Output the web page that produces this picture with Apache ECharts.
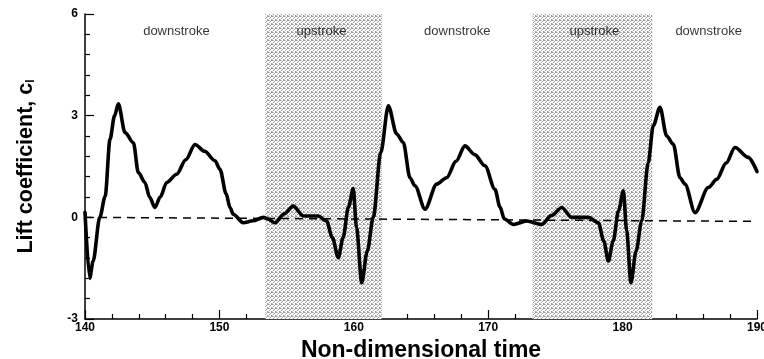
<!DOCTYPE html>
<html>
<head>
<meta charset="utf-8">
<script src="https://cdn.jsdelivr.net/npm/echarts@6/dist/echarts.min.js"></script>
<style>html,body{margin:0;padding:0;background:#fff}#c{width:764px;height:359px}</style>
</head>
<body>
<div id="c"></div>
<script>
// Non-dimensional time (x) and lift coefficient (y)
const timeValues = [140.0,140.35,140.6,141.1,141.5,141.86,142.2,142.48,142.98,143.6,143.97,144.46,144.8,145.2,145.6,146.08,146.82,147.5,148.18,148.9,149.67,150.04,150.5,150.79,151.03,151.78,152.5,153.27,153.6,154.14,154.8,155.5,156.24,157.36,157.98,158.4,158.85,159.2,159.6,159.96,160.2,160.59,161.0,161.45,162.0,162.57,163.19,163.68,164.18,164.55,165.3,166.17,166.91,167.6,168.27,169.0,169.76,170.5,170.88,171.2,171.87,172.86,173.98,174.7,175.47,176.21,177.45,178.2,178.6,178.94,179.3,179.7,180.06,180.3,180.62,181.0,181.42,181.9,182.28,182.78,183.28,183.77,184.27,184.64,185.39,186.38,187.0,187.7,188.36,189.35,190.0];
const liftValues = [0.15,-1.8,-1.3,0.0,0.62,2.3,3.0,3.35,2.5,2.2,1.32,1.03,0.6,0.29,0.6,1.03,1.27,1.7,2.15,1.95,1.67,1.42,0.7,0.29,0.09,-0.16,-0.1,0.0,-0.05,-0.16,0.1,0.33,0.04,0.04,-0.11,-0.6,-1.19,-0.6,0.3,0.85,-0.3,-1.93,-1.0,0.0,1.9,3.29,2.46,2.21,1.17,0.93,0.24,0.98,1.17,1.65,2.11,1.85,1.52,0.83,0.3,-0.05,-0.21,-0.11,-0.21,0.05,0.29,0.0,0.0,-0.16,-0.7,-1.29,-0.7,0.2,0.78,-0.4,-1.93,-1.0,-0.11,1.6,2.7,3.25,2.4,2.16,1.17,0.98,0.14,0.88,1.12,1.6,2.06,1.77,1.35];
// Zero reference line (dashed)
const zeroLineX = [140, 190];
const zeroLineY = [0, -0.12];
// Shaded upstroke intervals
const upstrokeStart = [153.4, 173.3];
const upstrokeEnd = [162.1, 182.2];
// Phase labels
const phaseNames = ['downstroke','upstroke','downstroke','upstroke','downstroke'];
const phaseX = [146.8, 157.6, 167.7, 177.9, 186.4];
const phaseY = [5.5, 5.5, 5.5, 5.5, 5.5];
// Axis ranges and ticks
const xMin = 140, xMax = 190, xStep = 10;
const yMin = -3, yMax = 6, yStep = 3;

// stipple pattern for the shaded intervals
const pat = document.createElement('canvas');
pat.width = 4; pat.height = 4;
const pc = pat.getContext('2d');
pc.fillStyle = '#ffffff'; pc.fillRect(0, 0, 4, 4);
pc.fillStyle = '#9a9a9a';
[[0,0],[2,1],[1,2],[3,3],[3,0]].forEach(([a,b]) => pc.fillRect(a, b, 1, 1));
pc.fillStyle = '#cfcfcf';
[[1,0],[0,3]].forEach(([a,b]) => pc.fillRect(a, b, 1, 1));

const FONT = "'Liberation Sans',Arial,sans-serif";
const chart = echarts.init(document.getElementById('c'), null, {renderer:'canvas'});
chart.setOption({
  animation: false,
  backgroundColor: '#fff',
  grid: {left: 85, right: 7, top: 14, bottom: 40, containLabel: false, outerBoundsMode: 'none'},
  xAxis: {
    type: 'value', min: xMin, max: xMax, interval: xStep,
    name: 'Non-dimensional time', nameLocation: 'middle', nameGap: 13,
    nameTextStyle: {fontFamily: FONT, fontWeight: 'bold', fontSize: 23, color: '#000', verticalAlign: 'top'},
    axisLine: {show: true, onZero: false, lineStyle: {color: '#000', width: 1.5}},
    axisTick: {show: true, inside: true, length: 9, lineStyle: {color: '#000', width: 1.2}},
    minorTick: {show: true, splitNumber: 5, length: 5, lineStyle: {color: '#000', width: 1.2}},
    axisLabel: {fontFamily: FONT, fontWeight: 'bold', fontSize: 12, color: '#000', margin: 3},
    splitLine: {show: false}
  },
  yAxis: {
    type: 'value', min: yMin, max: yMax, interval: yStep,
    name: 'Lift coefficient, c{sub|l}', nameLocation: 'middle', nameGap: 48, nameRotate: 90,
    nameTextStyle: {fontFamily: FONT, fontWeight: 'bold', fontSize: 21.5, color: '#000',
      rich: {sub: {fontFamily: FONT, fontWeight: 'bold', fontSize: 12, color: '#000', padding: [10,0,0,0]}}},
    axisLine: {show: true, onZero: false, lineStyle: {color: '#000', width: 1.5}},
    axisTick: {show: true, inside: true, length: 9, lineStyle: {color: '#000', width: 1.2}},
    minorTick: {show: true, splitNumber: 5, length: 5, lineStyle: {color: '#000', width: 1.2}},
    axisLabel: {fontFamily: FONT, fontWeight: 'bold', fontSize: 12, color: '#000', margin: 7},
    splitLine: {show: false}
  },
  series: [
    {
      type: 'line', name: 'zero', symbol: 'none', silent: true, z: 1,
      data: zeroLineX.map((x, i) => [x, zeroLineY[i]]),
      lineStyle: {color: '#000', width: 1.5, type: [8, 6]},
      markArea: {
        silent: true,
        itemStyle: {color: {image: pat, repeat: 'repeat'}},
        data: upstrokeStart.map((s, i) => [{xAxis: s}, {xAxis: upstrokeEnd[i]}])
      }
    },
    {
      type: 'line', name: 'cl', symbol: 'none', smooth: 0.3, smoothMonotone: 'x', z: 3,
      data: timeValues.map((t, i) => [t, liftValues[i]]),
      lineStyle: {color: '#000', width: 3.6, join: 'round', cap: 'round'}
    },
    {
      type: 'scatter', name: 'phases', symbolSize: 0, silent: true, z: 4,
      data: phaseX.map((x, i) => ({value: [x, phaseY[i]], name: phaseNames[i]})),
      label: {show: true, position: 'inside', formatter: p => p.name,
        fontFamily: FONT, fontSize: 13, color: '#000'}
    }
  ]
});
</script>
</body>
</html>
